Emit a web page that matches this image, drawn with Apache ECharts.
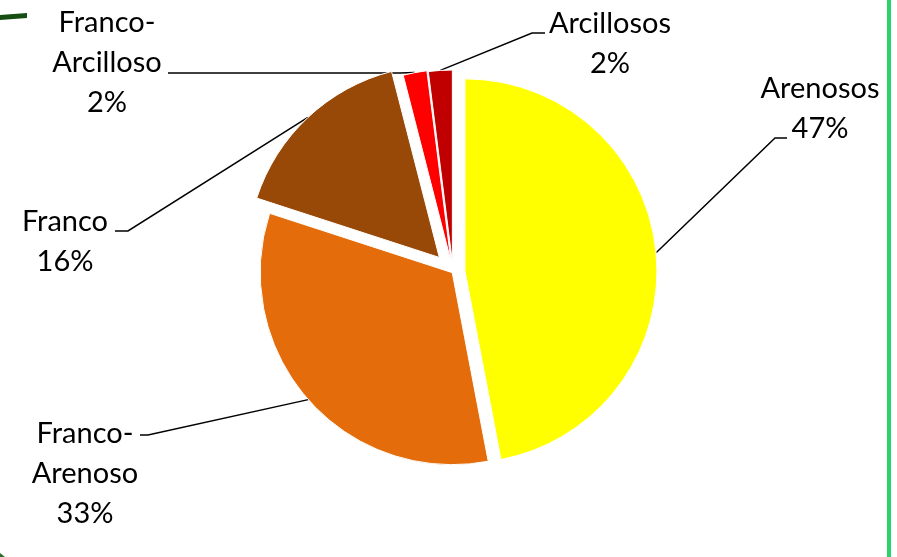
<!DOCTYPE html>
<html>
<head>
<meta charset="utf-8">
<script src="https://cdn.jsdelivr.net/npm/echarts@6/dist/echarts.min.js"></script>
<style>
html,body{margin:0;padding:0;background:#fff;}
#chart{width:897px;height:557px;}
</style>
</head>
<body>
<div id="chart"></div>
<script>
// ---- data ----
const categories = ['Arenosos', 'Franco-Arenoso', 'Franco', 'Franco-Arcilloso', 'Arcillosos'];
const values = [47, 33, 16, 2, 2];

// ---- styles / layout ----
const colors = ['#FFFF00', '#E46C0A', '#984807', '#FF0000', '#C00000'];
const explode = [12, 1, 20, 11, 10];
const pieCenter = [453, 272];
const pieRadius = 192;
const labelCenters = [[820, 109], [85, 474], [65, 242], [107, 63], [610, 44]];
const leaderElbows = [[[775, 138], [787, 138]], [[148, 435], [140, 435]], [[128, 231], [115, 231]], [[400, 73], [168, 73]], [[532, 33], [545, 33]]];

const chart = echarts.init(document.getElementById('chart'), null, {renderer: 'canvas'});

// one series per slice so each slice can have its own explosion
const sliceSeries = categories.map(function (cat, i) {
  return {
    type: 'pie',
    center: pieCenter,
    radius: [0, pieRadius],
    startAngle: 90,
    clockwise: true,
    selectedMode: 'multiple',
    selectedOffset: explode[i],
    animation: false,
    silent: true,
    emphasis: {disabled: true},
    label: {show: false},
    labelLine: {show: false},
    data: categories.map(function (c, j) {
      const own = j === i;
      return {
        name: c,
        value: values[j],
        selected: own,
        itemStyle: own ? {color: colors[j], borderColor: '#fff', borderWidth: 1} : {color: 'rgba(0,0,0,0)', borderWidth: 0}
      };
    })
  };
});

// transparent series carrying the data labels and leader lines
const labelSeries = {
  type: 'pie',
  center: pieCenter,
  radius: [0, pieRadius],
  startAngle: 90,
  clockwise: true,
  animation: false,
  silent: true,
  avoidLabelOverlap: false,
  emphasis: {disabled: true},
  itemStyle: {color: 'rgba(0,0,0,0)', borderWidth: 0},
  data: categories.map(function (c, j) { return {name: c, value: values[j]}; }),
  label: {
    formatter: function (p) { return p.name.replace('-', '-\n') + '\n' + Math.round(p.percent) + '%'; },
    fontFamily: 'Lato',
    fontSize: 29,
    lineHeight: 40,
    color: '#000',
    align: 'center'
  },
  labelLine: {
    show: true,
    lineStyle: {color: '#000', width: 1.5},
    length: 20,
    length2: 10
  },
  labelLayout: function (p) {
    const i = p.dataIndex;
    const a = p.labelLinePoints[0];
    const vx = a[0] - pieCenter[0], vy = a[1] - pieCenter[1];
    const len = Math.sqrt(vx * vx + vy * vy) || 1;
    const anchor = [a[0] + vx / len * explode[i], a[1] + vy / len * explode[i]];
    return {
      x: labelCenters[i][0],
      y: labelCenters[i][1],
      align: 'center',
      verticalAlign: 'middle',
      labelLinePoints: [anchor, leaderElbows[i][0], leaderElbows[i][1]]
    };
  }
};

chart.setOption({
  backgroundColor: '#fff',
  graphic: [
    {type: 'rect', shape: {x: 887, y: 0, width: 4, height: 557}, style: {fill: '#27D36B'}, silent: true},
    {type: 'polygon', shape: {points: [[0, 15], [27, 13], [27, 18], [0, 20]]}, style: {fill: '#154D12'}, silent: true},
    {type: 'polygon', shape: {points: [[0, 553], [5, 557], [0, 557]]}, style: {fill: '#2E6B2E'}, silent: true}
  ],
  series: sliceSeries.concat([labelSeries])
});
</script>
</body>
</html>
